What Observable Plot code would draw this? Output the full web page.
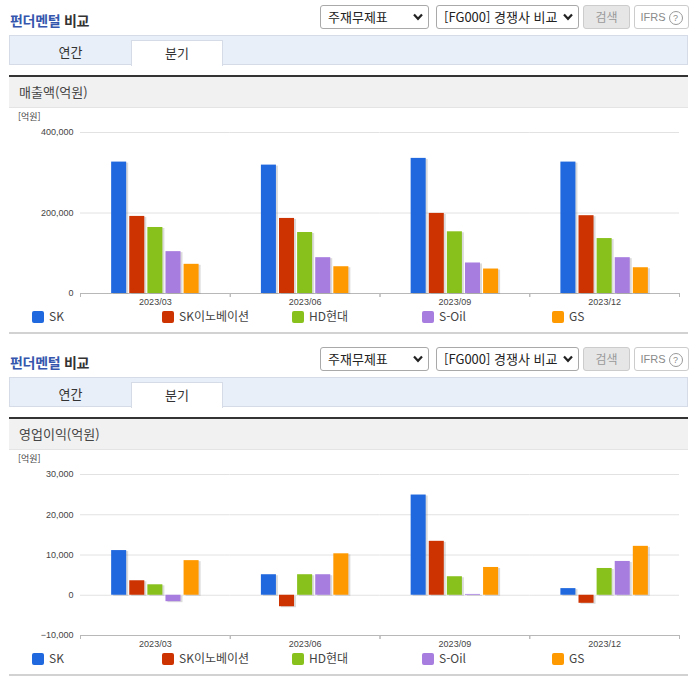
<!DOCTYPE html>
<html lang="ko">
<head>
<meta charset="utf-8">
<script src="https://cdn.jsdelivr.net/npm/d3@7"></script>
<script src="https://cdn.jsdelivr.net/npm/@observablehq/plot@0.6"></script>
<style>
  html, body { margin: 0; padding: 0; background: #fff; }
  body { width: 696px; height: 684px; position: relative; overflow: hidden;
         font-family: "Noto Sans CJK KR", "Noto Sans", sans-serif; color: #333; }
  .panel { position: absolute; left: 0; width: 696px; height: 342px; }
  .abs { position: absolute; }
  .title { left: 10px; top: 11px; font-size: 14px; font-weight: 700; line-height: 18px; color: #333; letter-spacing: -0.3px; }
  .title span { color: #3556ad; }
  .sel { top: 5px; height: 22px; border: 1px solid #a9a9a9; border-radius: 3px; background: #fff;
         font-size: 13px; line-height: 22px; padding-left: 7px; box-sizing: content-box; color: #222; }
  .sel svg { position: absolute; right: 5px; top: 7px; }
  .btn { top: 5px; height: 22px; border: 1px solid #ccc; border-radius: 3px; font-size: 12px; line-height: 22px; text-align: center; }
  .tabbar { left: 9px; top: 35px; width: 677px; height: 28px; background: #e9eff8; border: 1px solid #d5dce7; }
  .tab { top: 40px; height: 25px; font-size: 13px; line-height: 23px; text-align: center; color: #333; }
  .tab.active { left: 131px; width: 90px; background: #fff; border: 1px solid #d5dce7; border-bottom: none; }
  .dark { left: 9px; top: 75px; width: 679px; height: 2px; background: #333; }
  .band { left: 9px; top: 77px; width: 679px; height: 30px; background: #f1f1f1; border-bottom: 1px solid #e4e4e4;
          font-size: 13px; line-height: 30px; text-indent: 10px; color: #444; }
  .unit { left: 18px; top: 111px; font-size: 9px; color: #444; line-height: 12px; }
  .chart { left: 0; top: 110px; }
  .legend { top: 311px; font-size: 12px; line-height: 12px; color: #444; }
  .legend .sw { position: absolute; left: 0; top: 0; width: 12px; height: 12px; border-radius: 2px; }
  .legend .lb { position: absolute; left: 17px; top: -1px; white-space: nowrap; }
  .bottomline { left: 9px; top: 332px; width: 679px; height: 2px; background: #d2d2d2; }
</style>
</head>
<body>
<script>
// ---- data ----
const quarters = ["2023/03", "2023/06", "2023/09", "2023/12"];
const companies = ["SK", "SK이노베이션", "HD현대", "S-Oil", "GS"];
const colors = ["#2068de", "#cc3300", "#88c11c", "#a77ddf", "#ff9900"];

// 매출액 (억원)
const salesSK   = [326500, 319000, 335700, 326500];
const salesSKI  = [191500, 186500, 199000, 193300];
const salesHD   = [164000, 151500, 153300, 136500];
const salesSOil = [104000, 89000, 75800, 89000];
const salesGS   = [72500, 66500, 60800, 64000];
const salesTicks = [0, 200000, 400000];

// 영업이익 (억원)
const opSK   = [11100, 5100, 24900, 1650];
const opSKI  = [3600, -2850, 13400, -2000];
const opHD   = [2600, 5100, 4600, 6650];
const opSOil = [-1600, 5100, 200, 8400];
const opGS   = [8600, 10300, 6900, 12150];
const opTicks = [-10000, 0, 10000, 20000, 30000];

const panels = [
  {name: "매출액(억원)", series: [salesSK, salesSKI, salesHD, salesSOil, salesGS], ticks: salesTicks},
  {name: "영업이익(억원)", series: [opSK, opSKI, opHD, opSOil, opGS], ticks: opTicks}
];

// small ticks at the left/right edges of each facet frame on the bottom axis
function edgeTicks(index, scales, values, dims) {
  const {width, height, marginLeft, marginRight, marginBottom} = dims;
  const g = d3.create("svg:g").attr("stroke", "#b8b8b8");
  for (const x of [marginLeft, width - marginRight]) {
    g.append("line").attr("x1", x + 0.5).attr("x2", x + 0.5)
      .attr("y1", height - marginBottom).attr("y2", height - marginBottom + 4);
  }
  return g.node();
}

function makeChart(series, ticks) {
  const rows = [];
  quarters.forEach((q, i) => companies.forEach((c, j) => rows.push({quarter: q, company: c, value: series[j][i]})));
  const domain = d3.extent(ticks);
  return Plot.plot({
    width: 696, height: 200,
    marginLeft: 80, marginRight: 17, marginTop: 22, marginBottom: 17,
    style: {fontFamily: "'Liberation Sans', Arial, sans-serif", fontSize: "9px", color: "#444", background: "transparent", overflow: "visible"},
    fx: {domain: quarters, padding: 0, round: false, label: null, axis: "bottom", tickSize: 0, tickPadding: 5},
    x: {domain: companies, paddingInner: 0.17, paddingOuter: 1.72, round: false, axis: null},
    y: {domain, ticks, tickFormat: d3.format(","), tickSize: 0, tickPadding: 7, label: null},
    color: {domain: companies, range: colors},
    marks: [
      Plot.ruleY(ticks, {stroke: "#e2e2e2"}),
      Plot.ruleY([domain[0]], {stroke: "#b8b8b8"}),
      edgeTicks,
      Plot.barY(rows, {fx: "quarter", x: "company", y: "value", fill: "#888", fillOpacity: 0.3, dx: 2, dy: 1}),
      Plot.barY(rows, {fx: "quarter", x: "company", y: "value", fill: "company"})
    ]
  });
}

const chevron = '<svg width="10" height="8" viewBox="0 0 10 8"><path d="M1 1.5 L5 5.8 L9 1.5" fill="none" stroke="#222" stroke-width="2.2"/></svg>';

panels.forEach((p, k) => {
  const panel = document.createElement("div");
  panel.className = "panel";
  panel.style.top = (k * 342) + "px";
  panel.innerHTML = `
    <div class="abs title"><span>펀더멘털</span> 비교</div>
    <div class="abs sel" style="left:320px;width:100px;">주재무제표${chevron}</div>
    <div class="abs sel" style="left:436px;width:134px;">[FG000] 경쟁사 비교${chevron}</div>
    <div class="abs btn" style="left:583px;width:45px;background:#e6e6e6;color:#9a9a9a;">검색</div>
    <div class="abs btn" style="left:634px;width:53px;background:#fff;color:#8a8a8a;font-family:'Liberation Sans',Arial,sans-serif;font-size:11px;">IFRS <span style="display:inline-block;width:12px;height:12px;border:1px solid #999;border-radius:50%;line-height:12px;font-size:9px;vertical-align:middle;">?</span></div>
    <div class="abs tabbar"></div>
    <div class="abs tab" style="left:10px;width:121px;">연간</div>
    <div class="abs tab active">분기</div>
    <div class="abs dark"></div>
    <div class="abs band">${p.name}</div>
    <div class="abs unit">[억원]</div>
    <div class="abs bottomline"></div>
  `;
  const chartBox = document.createElement("div");
  chartBox.className = "abs chart";
  chartBox.appendChild(makeChart(p.series, p.ticks));
  panel.appendChild(chartBox);
  companies.forEach((c, j) => {
    const item = document.createElement("div");
    item.className = "abs legend";
    item.style.left = (32 + 130 * j) + "px";
    item.innerHTML = `<div class="sw" style="background:${colors[j]}"></div><div class="lb">${c}</div>`;
    panel.appendChild(item);
  });
  document.body.appendChild(panel);
});
</script>
</body>
</html>
